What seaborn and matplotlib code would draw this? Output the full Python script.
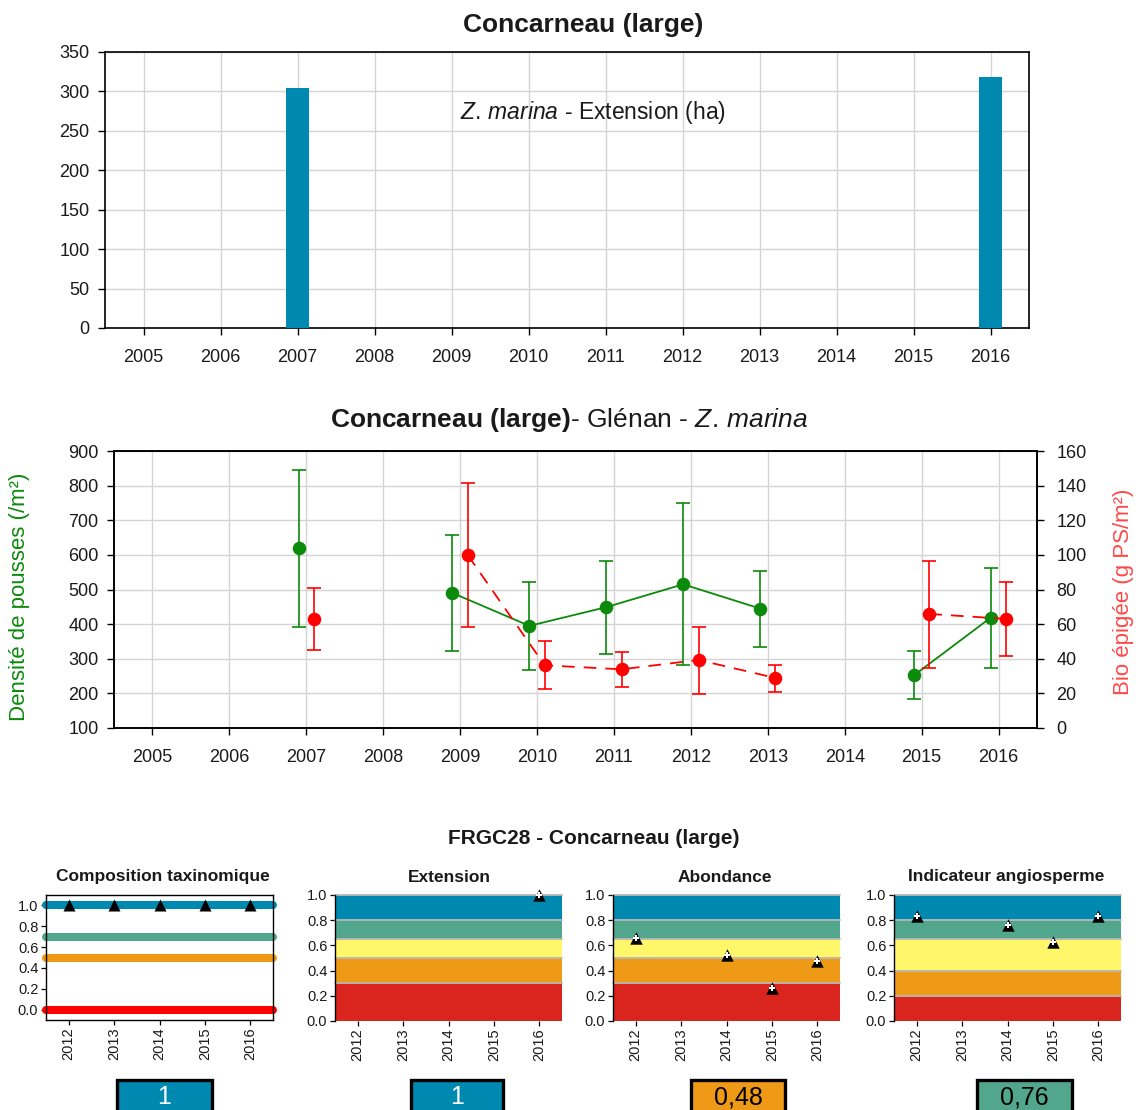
import numpy as np
import pandas as pd
import matplotlib
matplotlib.use("Agg")
import matplotlib.pyplot as plt
import seaborn as sns
from matplotlib.patches import Rectangle

# ---------------- data ----------------
years = [2005, 2006, 2007, 2008, 2009, 2010, 2011, 2012, 2013, 2014, 2015, 2016]
ext_years = [2007, 2016]
ext_values = [304, 318]

obs_years = [2007, 2009, 2010, 2011, 2012, 2013, 2015, 2016]
dens_mean = [619, 490, 395, 449, 515, 445, 252, 419]
dens_low = [392, 322, 267, 315, 281, 335, 184, 274]
dens_high = [845, 658, 522, 583, 749, 554, 322, 562]

bio_mean = [62.7, 99.8, 36.2, 33.9, 39.3, 28.9, 65.9, 63.0]
bio_low = [44.9, 58.4, 22.6, 23.7, 19.5, 21.0, 34.7, 41.4]
bio_high = [80.6, 141.6, 50.3, 44.0, 58.6, 36.2, 96.6, 84.2]

ind_years = [2012, 2013, 2014, 2015, 2016]
comp_years = [2012, 2013, 2014, 2015, 2016]
comp_values = [1.0, 1.0, 1.0, 1.0, 1.0]
comp_levels = [1.0, 0.7, 0.5, 0.0]

extn_years = [2016]
extn_values = [1.0]
abond_years = [2012, 2014, 2015, 2016]
abond_values = [0.66, 0.52, 0.26, 0.48]
angio_years = [2012, 2014, 2015, 2016]
angio_values = [0.83, 0.76, 0.63, 0.83]

bands_std = [0.0, 0.3, 0.5, 0.65, 0.8, 1.0]
bands_angio = [0.0, 0.2, 0.4, 0.65, 0.8, 1.0]

panel_titles = ["Composition taxinomique", "Extension", "Abondance", "Indicateur angiosperme"]
score_labels = ["1", "1", "0,48", "0,76"]

# ---------------- style ----------------
BLUE = "#0089B0"
TEAL = "#52A68C"
YELLOW = "#FFF66A"
ORANGE = "#EE9A17"
RED = "#DA251E"
band_colors = [RED, ORANGE, YELLOW, TEAL, BLUE]
comp_colors = [BLUE, TEAL, ORANGE, "#FF0000"]
GREEN = "#0B8A0B"
PRED = "#FF0000"
GRID = "#D4D4D4"
TXT = "#1a1a1a"

sns.set_theme(style="white")
plt.rcParams['font.family'] = ['Liberation Sans', 'DejaVu Sans']
plt.rcParams['mathtext.fontset'] = 'custom'
plt.rcParams['mathtext.rm'] = 'Liberation Sans'
plt.rcParams['mathtext.it'] = 'Liberation Sans:italic'
plt.rcParams['mathtext.bf'] = 'Liberation Sans:bold'

W, H = 1141, 1110
fig = plt.figure(figsize=(W / 100, H / 100), dpi=100)


def axes_px(l, t, r, b):
    return fig.add_axes([l / W, 1 - b / H, (r - l) / W, (b - t) / H])


def style_frame(ax, lw=1.2):
    for s in ax.spines.values():
        s.set_visible(True)
        s.set_color("black")
        s.set_linewidth(lw)


# ---------------- top chart ----------------
ax1 = axes_px(105, 52, 1029, 328)
ext_all = [ext_values[ext_years.index(y)] if y in ext_years else 0 for y in years]
df_ext = pd.DataFrame({"year": years, "val": ext_all})
sns.barplot(data=df_ext, x="year", y="val", native_scale=True, width=0.3,
            color=BLUE, saturation=1, linewidth=0, ax=ax1, zorder=3)
ax1.set_xlim(2004.5, 2016.5)
ax1.set_ylim(0, 350)
ax1.set_xticks(years)
ax1.set_xticklabels([str(y) for y in years])
ax1.set_yticks(np.arange(0, 351, 50))
ax1.set_xlabel("")
ax1.set_ylabel("")
ax1.grid(True, color=GRID, lw=1)
ax1.set_axisbelow(True)
style_frame(ax1)
ax1.tick_params(direction="out", length=5, width=1, labelsize=13, colors="black",
                labelcolor=TXT, bottom=True, left=True, pad=6)
ax1.tick_params(axis="x", pad=10)
fig.text(583 / W, 1 - 25 / H, "Concarneau (large)", ha="center", va="center",
         fontsize=19, fontweight="bold", color=TXT)
fig.text(593 / W, 1 - 112 / H, r"$\mathit{Z.\,marina}$ - Extension (ha)", ha="center",
         va="center", fontsize=16.5, color=TXT)

# ---------------- middle chart ----------------
ax2 = axes_px(114, 451, 1037, 728)
ax2r = ax2.twinx()


def with_gaps(xs, ys):
    gx, gy = [], []
    for i, (x, y) in enumerate(zip(xs, ys)):
        if i > 0 and x - xs[i - 1] > 1:
            gx.append(np.nan)
            gy.append(np.nan)
        gx.append(x)
        gy.append(y)
    return np.array(gx, float), np.array(gy, float)


xg = np.array(obs_years) - 0.1
xr = np.array(obs_years) + 0.1
dm, dl, dh = map(np.array, (dens_mean, dens_low, dens_high))
bm, bl, bh = map(np.array, (bio_mean, bio_low, bio_high))

gx, gy = with_gaps(list(xg), dens_mean)
ax2.plot(gx, gy, color=GREEN, lw=1.3, zorder=3)
ax2.errorbar(xg, dm, yerr=[dm - dl, dh - dm], fmt="none", ecolor=GREEN,
             elinewidth=1.2, capsize=5, capthick=1.2, zorder=3)
sns.scatterplot(x=xg, y=dm, color=GREEN, s=95, linewidth=0, ax=ax2, zorder=4)

rx, ry = with_gaps(list(xr), bio_mean)
ax2r.plot(rx, ry, color=PRED, lw=1.3, ls=(0, (7, 5)), zorder=3)
ax2r.errorbar(xr, bm, yerr=[bm - bl, bh - bm], fmt="none", ecolor=PRED,
              elinewidth=1.2, capsize=5, capthick=1.2, zorder=3)
sns.scatterplot(x=xr, y=bm, color=PRED, s=95, linewidth=0, ax=ax2r, zorder=4)

ax2.set_xlim(2004.5, 2016.5)
ax2.set_ylim(100, 900)
ax2r.set_ylim(0, 160)
ax2.set_xticks(years)
ax2.set_xticklabels([str(y) for y in years])
ax2.set_yticks(np.arange(100, 901, 100))
ax2r.set_yticks(np.arange(0, 161, 20))
ax2.grid(True, color=GRID, lw=1)
ax2.set_axisbelow(True)
ax2r.grid(False)
style_frame(ax2)
style_frame(ax2r)
ax2.tick_params(direction="out", length=5, width=1, labelsize=13, colors="black",
                labelcolor=TXT, bottom=True, left=True, pad=6)
ax2.tick_params(axis="x", pad=10)
ax2r.tick_params(direction="out", length=5, width=1, labelsize=13, colors="black",
                 labelcolor=TXT, right=True, pad=9)
ax2.set_xlabel("")
ax2.set_ylabel("")
ax2r.set_ylabel("")
fig.text(569 / W, 1 - 420 / H,
         r"$\mathbf{Concarneau\ (large)}$- Glénan - $\mathit{Z.\,marina}$",
         ha="center", va="center", fontsize=19, color=TXT)
fig.text(20 / W, 1 - 597 / H, "Densité de pousses (/m²)", rotation=90, ha="center",
         va="center", fontsize=16, color=GREEN)
fig.text(1123 / W, 1 - 592 / H, "Bio épigée (g PS/m²)", rotation=90, ha="center",
         va="center", fontsize=16, color="#FF4848")

# ---------------- bottom panels ----------------
fig.text(594 / W, 1 - 838 / H, "FRGC28 - Concarneau (large)", ha="center", va="center",
         fontsize=15, fontweight="bold", color=TXT)

panel_px = [(46, 895, 273, 1020), (335, 895, 562, 1021), (613, 895, 840, 1021),
            (894, 895, 1121, 1021)]
title_x = [163, 449, 725, 1006]
axs = [axes_px(*p) for p in panel_px]


def small_ticks(ax):
    ax.set_xticks(ind_years)
    ax.set_xticklabels([str(y) for y in ind_years], rotation=90)
    ax.set_yticks(np.arange(0, 1.01, 0.2))
    ax.set_yticklabels([f"{v:.1f}" for v in np.arange(0, 1.01, 0.2)])
    ax.tick_params(direction="out", length=3.5, width=0.9, labelsize=10.5, colors="black",
                   labelcolor=TXT, bottom=True, left=True, pad=2)
    ax.set_xlabel("")
    ax.set_ylabel("")
    ax.grid(False)


# panel 1 : composition
a = axs[0]
a.set_xlim(2011.5, 2016.5)
a.set_ylim(-0.1, 1.1)
for lvl, c in zip(comp_levels, comp_colors):
    a.axhline(lvl, color=c, lw=5.8, solid_capstyle="round", clip_on=False, zorder=2)
sns.scatterplot(x=comp_years, y=comp_values, marker="^", color="black", s=75,
                linewidth=0, ax=a, zorder=5, clip_on=False)
style_frame(a, lw=1)
small_ticks(a)


def band_panel(ax, bounds, xs, ys):
    ax.set_xlim(2011.5, 2016.5)
    ax.set_ylim(0, 1)
    for lo, hi, c in zip(bounds[:-1], bounds[1:], band_colors):
        ax.axhspan(lo, hi, color=c, lw=0, zorder=1)
    for b in bounds[1:]:
        ax.axhline(b, color="#B8B8B8", lw=1.3, zorder=2, clip_on=False)
    sns.scatterplot(x=xs, y=ys, marker="^", color="black", s=80, linewidth=0,
                    ax=ax, zorder=5, clip_on=False)
    sns.scatterplot(x=xs, y=ys, marker="P", color="white", s=14, linewidth=0,
                    ax=ax, zorder=6, clip_on=False)
    for k in ["top", "right", "bottom"]:
        ax.spines[k].set_visible(False)
    ax.spines["left"].set_visible(True)
    ax.spines["left"].set_color("black")
    ax.spines["left"].set_linewidth(1)
    small_ticks(ax)


band_panel(axs[1], bands_std, extn_years, extn_values)
band_panel(axs[2], bands_std, abond_years, abond_values)
band_panel(axs[3], bands_angio, angio_years, angio_values)

for ax, t, tx in zip(axs, panel_titles, title_x):
    fig.text(tx / W, 1 - 877 / H, t, ha="center", va="center", fontsize=12.5,
             fontweight="bold", color=TXT)

# score boxes
box_px = [(117, 212), (411, 503), (691, 785), (977, 1072)]
box_colors = [BLUE, BLUE, ORANGE, TEAL]
text_colors = ["white", "white", "black", "black"]
for (x0, x1), c, lab, tc in zip(box_px, box_colors, score_labels, text_colors):
    r = Rectangle((x0 / W, 1 - 1116 / H), (x1 - x0) / W, (1116 - 1080) / H,
                  transform=fig.transFigure, facecolor=c, edgecolor="black",
                  lw=2.4, clip_on=False)
    fig.add_artist(r)
    fig.text((x0 + x1) / 2 / W, 1 - 1097 / H, lab, ha="center", va="center",
             fontsize=18, color=tc)

fig.savefig("out.png", dpi=100)
